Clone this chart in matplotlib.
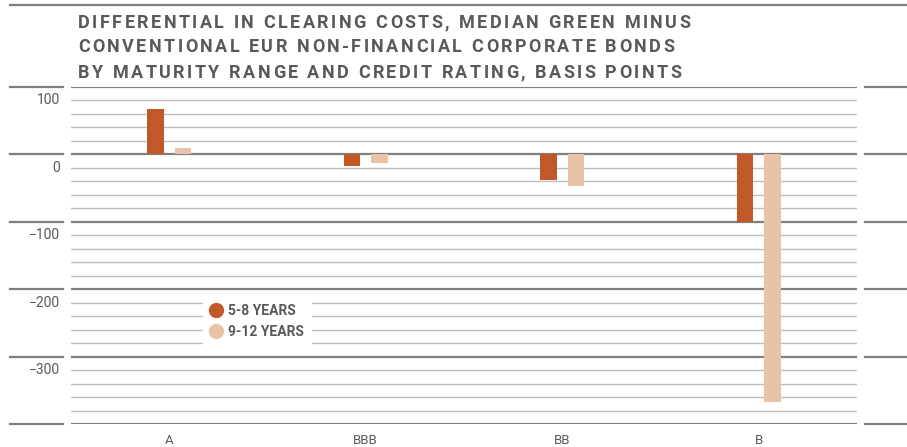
import matplotlib
matplotlib.use('Agg')
import matplotlib.pyplot as plt
import matplotlib.transforms as mtransforms
from matplotlib.lines import Line2D
import numpy as np

# data
ratings = ['A', 'BBB', 'BB', 'B']
y_5_8 = [67, -17, -38, -100]
y_9_12 = [10, -13, -47, -368]
y_major = [100, 0, -100, -200, -300, -400]
y_labels = ['100', '0', '\u2212100', '\u2212200', '\u2212300']
series = ['5-8 YEARS', '9-12 YEARS']
title_lines = ['DIFFERENTIAL IN CLEARING COSTS, MEDIAN GREEN MINUS',
               'CONVENTIONAL EUR NON-FINANCIAL CORPORATE BONDS',
               'BY MATURITY RANGE AND CREDIT RATING, BASIS POINTS']

c_dark = '#c05828'
c_light = '#e8c3a7'
txt = '#58595b'
W, H = 907, 447

plt.rcParams['font.family'] = ['Roboto', 'DejaVu Sans']
fig = plt.figure(figsize=(W / 100, H / 100), dpi=100)
ax = fig.add_axes([71 / W, 23 / H, 786 / W, 337 / H])

x = np.arange(len(ratings))
ax.bar(x - 0.07, y_5_8, width=0.082, color=c_dark, zorder=3)
ax.bar(x + 0.07, y_9_12, width=0.082, color=c_light, zorder=3)

ax.set_xlim(-0.5, 3.5)
ax.set_ylim(-400, 100)
ax.set_yticks(y_major)
ax.set_yticks(np.arange(-400, 101, 20), minor=True)
ax.grid(which='minor', axis='y', color='#bdbdbd', lw=1.0, zorder=0)
ax.grid(which='major', axis='y', color='#7f7f7f', lw=1.6, zorder=1)
ax.tick_params(axis='y', which='both', length=0, labelleft=False)
ax.set_xticks(x, ratings)
ax.tick_params(axis='x', length=0, pad=7, labelsize=9.5, labelcolor=txt)
for s in ax.spines.values():
    s.set_visible(False)

# y labels sit just under their gridline
tr = mtransforms.blended_transform_factory(ax.transAxes, ax.transData)
for v, lab in zip(y_major, y_labels):
    ax.text(-0.014, v - 20, lab, transform=tr, ha='right', va='center',
            fontsize=10, color=txt)

# short line stubs outside the plot on both sides
tr2 = mtransforms.blended_transform_factory(fig.transFigure, ax.transData)
for v in y_major:
    for x0, x1 in [(10, 63), (865, 907)]:
        fig.add_artist(Line2D([x0 / W, x1 / W], [v, v], transform=tr2,
                              color='#7f7f7f', lw=1.6, clip_on=False))
fig.add_artist(Line2D([10 / W, 1], [1 - 5 / H, 1 - 5 / H], color='#7f7f7f', lw=1.6))

handles = [Line2D([], [], ls='', marker='o', markersize=10, color=c)
           for c in [c_dark, c_light]]
leg = ax.legend(handles, series, loc='upper left', bbox_to_anchor=(0.168, 0.378),
                frameon=True, handlelength=0.8, handletextpad=0.45,
                labelspacing=0.5, borderpad=0.55, borderaxespad=0,
                labelcolor=txt, prop={'weight': 'bold', 'size': 10})
leg.get_frame().set_facecolor('white')
leg.get_frame().set_edgecolor('none')
leg.get_frame().set_alpha(1)
leg.get_frame().set_boxstyle('square', pad=0)
leg.set_zorder(5)

# title with letter spacing, drawn char by char
r = fig.canvas.get_renderer()
def spaced(xp, yp, s, size, gap):
    for ch in s:
        if ch == ' ':
            xp += size * 100 / 72 * 0.26 + gap
            continue
        t = fig.text(xp / W, 1 - yp / H, ch, fontsize=size, fontweight='bold',
                     color=txt, va='baseline', ha='left')
        xp += t.get_window_extent(r).width + gap

for i, line in enumerate(title_lines):
    spaced(78, 27.5 + 25 * i, line, 13, 2.45)

fig.savefig('out.png', dpi=100)
